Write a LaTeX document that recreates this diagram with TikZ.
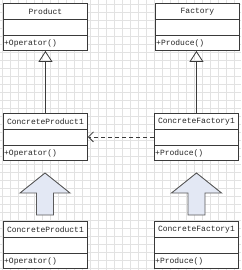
\documentclass[tikz,border=0pt]{standalone}
\usepackage{fontspec}
\newfontfamily\umlfont{Liberation Mono}
\usetikzlibrary{arrows.meta,calc}
\definecolor{boxc}{HTML}{3A3A3A}
\definecolor{gridc}{HTML}{E2E2E2}
\definecolor{arrowfill}{HTML}{E3E8F4}
\definecolor{arrowline}{HTML}{5A5A5A}
\tikzset{
  umlbox/.style={draw=boxc, line width=0.9pt, minimum width=84pt, minimum height=47pt, anchor=north west, inner sep=0pt, fill=white},
  umltitle/.style={font=\umlfont\fontsize{8}{9}\selectfont, text=black!85, inner sep=0pt},
  umlop/.style={font=\umlfont\fontsize{8}{9}\selectfont, text=black!85, inner sep=0pt, anchor=west},
  sepline/.style={draw=boxc, line width=0.8pt},
  inherit/.style={draw=boxc, line width=0.8pt, -{Triangle[open, length=11pt, width=14pt]}},
  depend/.style={draw=boxc, line width=0.8pt, dashed, dash pattern=on 4pt off 3pt, -{Straight Barb[length=5pt, width=10pt]}},
  bigarrow/.style={draw=arrowline, fill=arrowfill, line width=0.9pt, line join=miter}
}
\newcommand{\umlclass}[5]{%
  \node[umlbox] (#1) at (#2,#3) {};
  \draw[sepline] ($(#1.north west)+(0,16)$) -- ($(#1.north east)+(0,16)$);
  \draw[sepline] ($(#1.north west)+(0,32)$) -- ($(#1.north east)+(0,32)$);
  \node[umltitle] (#1-t) at ($(#1.north)+(0,8.5)$) {#4};
  \node[umlop] (#1-o) at ($(#1.north west)+(1,40)$) {#5};
}
\newcommand{\blockarrow}[3]{%
  \coordinate (#1) at (#2,#3);
  \draw[bigarrow] (#1) -- ++(25,20) -- ++(-16.5,0) -- ++(0,22) -- ++(-17,0) -- ++(0,-22) -- ++(-16.5,0) -- cycle;
}
\begin{document}
\begin{tikzpicture}[x=1pt,y=-1pt]
\useasboundingbox (0,0) rectangle (241,270);
\fill[white] (0,0) rectangle (241,270);
\foreach \i in {0,8,...,240} \draw[gridc, line width=0.4pt] (\i+2,0) -- (\i+2,270);
\foreach \j in {0,8,...,270} \draw[gridc, line width=0.4pt] (0,\j+4) -- (241,\j+4);

\umlclass{p}{3}{3}{Product}{+Operator()}
\umlclass{f}{155}{3}{Factory}{+Produce()}
\umlclass{cp}{3}{113}{ConcreteProduct1}{+Operator()}
\umlclass{cf}{154}{113}{ConcreteFactory1}{+Produce()}
\umlclass{cpb}{3}{221}{ConcreteProduct1}{+Operator()}
\umlclass{cfb}{154}{221}{ConcreteFactory1}{+Produce()}

\draw[inherit] (cp.north) -- (p.south);
\draw[inherit] (cf.north) -- (cf.north |- f.south);
\draw[depend] (cf.west) -- (cp.east);

\blockarrow{la}{45}{173}
\blockarrow{ra}{196.5}{173}
\end{tikzpicture}
\end{document}
